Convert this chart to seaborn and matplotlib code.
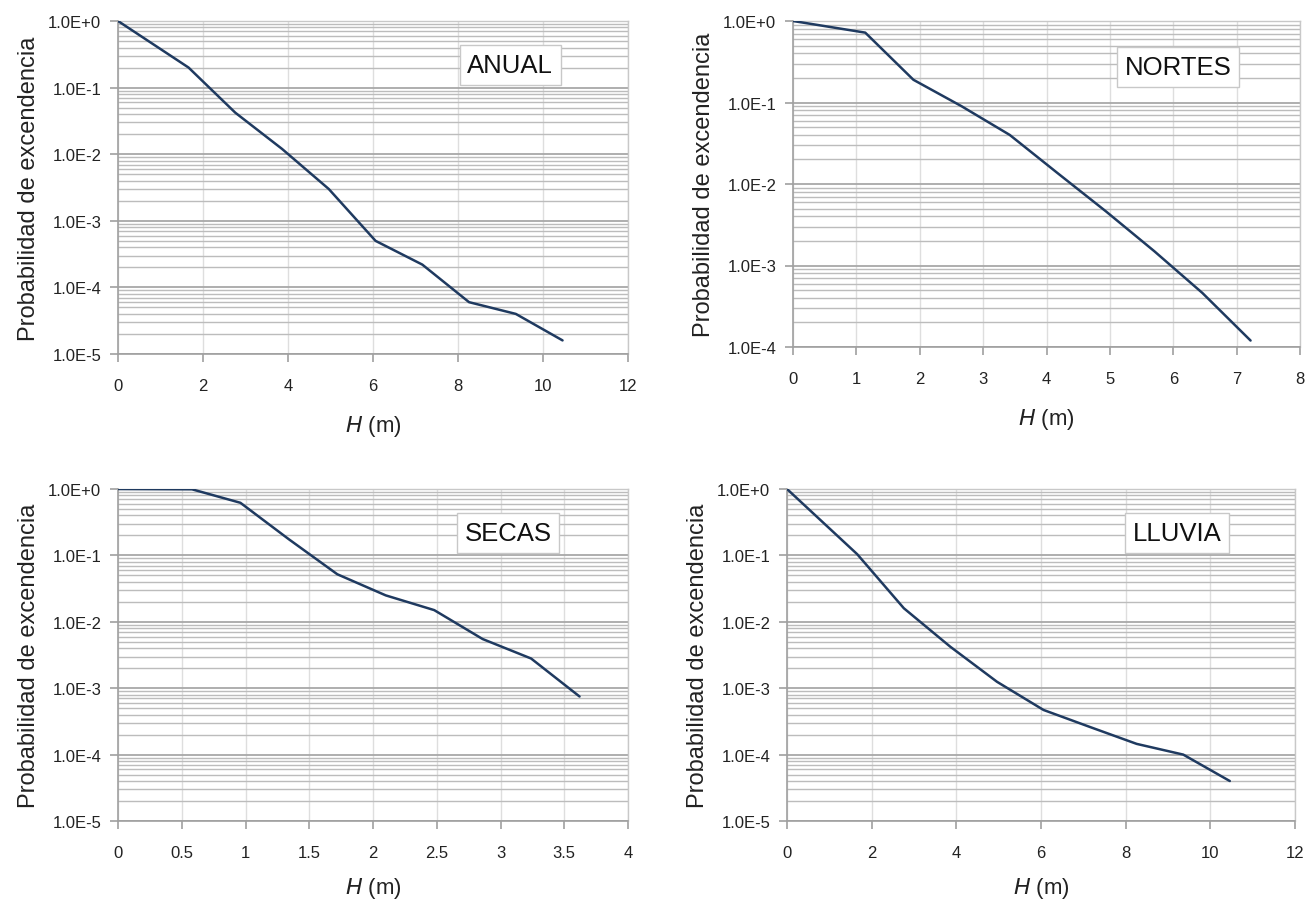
import numpy as np
import pandas as pd
import matplotlib
matplotlib.use("Agg")
import matplotlib.pyplot as plt
import matplotlib.ticker as mticker
import seaborn as sns

# Data (H in m, exceedance probability)
anual_h = [0, 1.66, 2.76, 3.86, 4.96, 6.06, 7.16, 8.26, 9.36, 10.46]
anual_p = [1.0, 0.2, 0.042, 0.012, 0.003, 5.0e-4, 2.2e-4, 6.0e-5, 4.0e-5, 1.6e-5]

nortes_h = [0, 1.14, 1.9, 2.66, 3.42, 4.18, 4.94, 5.7, 6.46, 7.22]
nortes_p = [1.0, 0.72, 0.19, 0.09, 0.04, 0.0135, 0.0046, 0.0015, 4.6e-4, 1.2e-4]

secas_h = [0, 0.58, 0.96, 1.34, 1.72, 2.1, 2.48, 2.86, 3.24, 3.62]
secas_p = [1.0, 0.99, 0.62, 0.175, 0.052, 0.025, 0.015, 0.0055, 0.0028, 7.5e-4]

lluvia_h = [0, 1.66, 2.76, 3.86, 4.96, 6.06, 7.16, 8.26, 9.36, 10.46]
lluvia_p = [1.0, 0.104, 0.016, 0.0042, 0.00125, 4.7e-4, 2.6e-4, 1.45e-4, 1.0e-4, 4.0e-5]

titles = ["ANUAL", "NORTES", "SECAS", "LLUVIA"]
xmax = [12, 8, 4, 12]
xstep = [2, 1, 0.5, 2]
ymin = [1e-5, 1e-4, 1e-5, 1e-5]

sns.set_theme(style="white")
plt.rcParams["font.family"] = ["Liberation Sans", "DejaVu Sans"]

fig = plt.figure(figsize=(13.07, 9.03), dpi=100)
W, H = 1307, 903
# axes boxes in pixels: left, right, top, bottom
boxes = [(118, 628, 22, 355), (793, 1300, 22, 348),
         (118, 628, 490, 822), (787, 1295, 490, 822)]
label_pos = [(0.769, 0.868), (0.759, 0.859), (0.765, 0.867), (0.768, 0.867)]
xlabel_pad = [15, 15, 11, 11]

series = [(anual_h, anual_p), (nortes_h, nortes_p),
          (secas_h, secas_p), (lluvia_h, lluvia_p)]


def sci_fmt(v, pos):
    e = int(round(np.log10(v)))
    return "1.0E+0" if e == 0 else "1.0E%d" % e


for i, (h, p) in enumerate(series):
    l, r, t, b = boxes[i]
    ax = fig.add_axes([l / W, 1 - b / H, (r - l) / W, (b - t) / H])
    df = pd.DataFrame({"H": h, "P": p})
    sns.lineplot(data=df, x="H", y="P", ax=ax, color="#1f3a60", linewidth=1.8, zorder=3)
    ax.set_yscale("log")
    ax.set_ylim(ymin[i], 1)
    ax.set_xlim(0, xmax[i])
    ax.set_xticks(np.arange(0, xmax[i] + xstep[i] / 2, xstep[i]))
    ax.xaxis.set_major_formatter(mticker.FormatStrFormatter("%g"))
    ax.yaxis.set_major_locator(mticker.LogLocator(base=10, numticks=10))
    ax.yaxis.set_minor_locator(mticker.LogLocator(base=10, subs=np.arange(2, 10), numticks=20))
    ax.yaxis.set_major_formatter(mticker.FuncFormatter(sci_fmt))
    ax.yaxis.set_minor_formatter(mticker.NullFormatter())

    ax.grid(axis="y", which="major", color="#a8a8a8", linewidth=1.3)
    ax.grid(axis="y", which="minor", color="#bcbcbc", linewidth=1.0)
    ax.grid(axis="x", which="major", color="#dedede", linewidth=1.0)
    ax.set_axisbelow(True)

    for s in ["top", "right"]:
        ax.spines[s].set_color("#c8c8c8")
        ax.spines[s].set_linewidth(1.0)
    for s in ["left", "bottom"]:
        ax.spines[s].set_color("#a0a0a0")
        ax.spines[s].set_linewidth(1.2)

    ax.tick_params(axis="both", which="major", direction="out", length=6, width=1.2,
                   color="#a0a0a0", labelsize=12, labelcolor="#222222", pad=6)
    ax.tick_params(axis="x", which="major", pad=11)
    ax.tick_params(axis="y", which="minor", length=0)
    ax.tick_params(left=True, bottom=True)

    ax.set_xlabel("$\\it{H}$ (m)", fontsize=16, color="#222222", labelpad=xlabel_pad[i])
    ax.set_ylabel("Probabilidad de excendencia", fontsize=17, color="#222222", labelpad=6)

    ax.text(label_pos[i][0], label_pos[i][1], titles[i], transform=ax.transAxes,
            fontsize=18.5, ha="center", va="center", color="#111111", zorder=5,
            bbox=dict(boxstyle="square,pad=0.3", facecolor="white", edgecolor="#c8c8c8",
                      linewidth=1.0))

fig.savefig("out.png", dpi=100)
